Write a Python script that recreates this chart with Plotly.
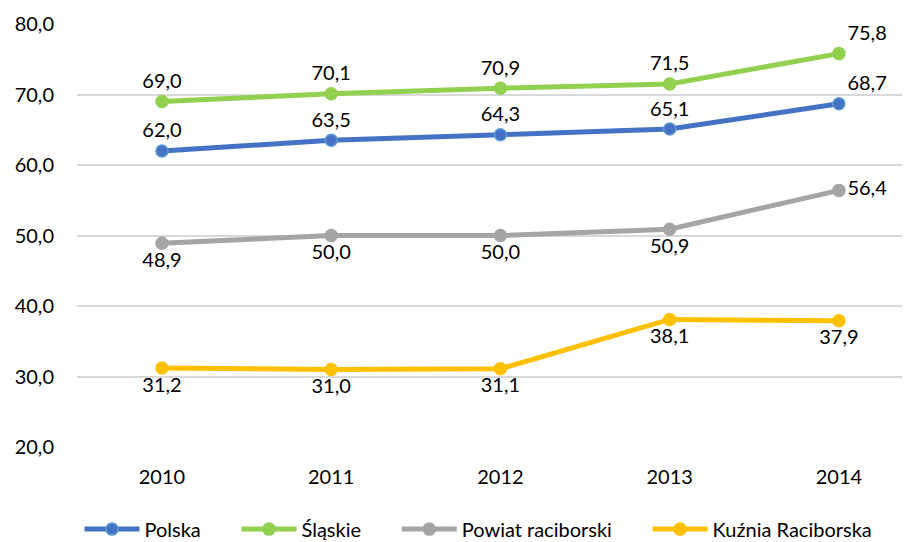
import plotly.graph_objects as go

years = ["2010", "2011", "2012", "2013", "2014"]
polska = [62.0, 63.5, 64.3, 65.1, 68.7]
slaskie = [69.0, 70.1, 70.9, 71.5, 75.8]
powiat = [48.9, 50.0, 50.0, 50.9, 56.4]
kuznia = [31.2, 31.0, 31.1, 38.1, 37.9]
y_ticks = [20, 30, 40, 50, 60, 70, 80]

xs = list(range(len(years)))

def fmt(v):
    return f"{v:.1f}".replace(".", ",")

series = [
    ("Polska", polska, "#4472C4", "#5B9BD5",
     ["top center"] * 4 + ["top right"]),
    ("Śląskie", slaskie, "#92D050", "#92D050",
     ["top center"] * 4 + ["top right"]),
    ("Powiat raciborski", powiat, "#A5A5A5", "#A5A5A5",
     ["bottom center"] * 4 + ["middle right"]),
    ("Kuźnia Raciborska", kuznia, "#FFC000", "#FFC000",
     ["bottom center"] * 5),
]

FONT = "Lato"
FS = 20
PAD = "\u00a0" * 6

fig = go.Figure()
for name, vals, col, mcol, pos in series:
    fig.add_trace(go.Scatter(
        x=xs, y=vals, name=name + PAD, mode="lines+markers+text",
        line=dict(color=col, width=5),
        marker=dict(size=12, color=col, line=dict(color=mcol, width=1.5)),
        text=[fmt(v) for v in vals], textposition=pos,
        textfont=dict(size=FS, color="#000000", family=FONT),
        cliponaxis=False,
    ))

fig.update_layout(
    width=902, height=534,
    margin=dict(l=69, r=0, t=16, b=95, autoexpand=False),
    paper_bgcolor="white", plot_bgcolor="white",
    font=dict(family=FONT, size=FS, color="#000000"),
    separators=",.",
    showlegend=True,
    legend=dict(orientation="h", x=0.5, xanchor="center", y=-0.148, yanchor="top",
                font=dict(size=FS), tracegroupgap=0, itemwidth=55),
    xaxis=dict(range=[-0.502, 4.42], tickvals=xs, ticktext=years,
               showgrid=False, zeroline=False, showline=False, ticks="",
               ticklabelstandoff=16, tickfont=dict(size=FS)),
    yaxis=dict(range=[20, 80], tickvals=y_ticks, tickformat=".1f",
               showgrid=True, gridcolor="#D9D9D9", gridwidth=2,
               zeroline=False, showline=False, ticks="",
               ticklabelstandoff=22, tickfont=dict(size=FS)),
)

fig.write_html("out.html")
